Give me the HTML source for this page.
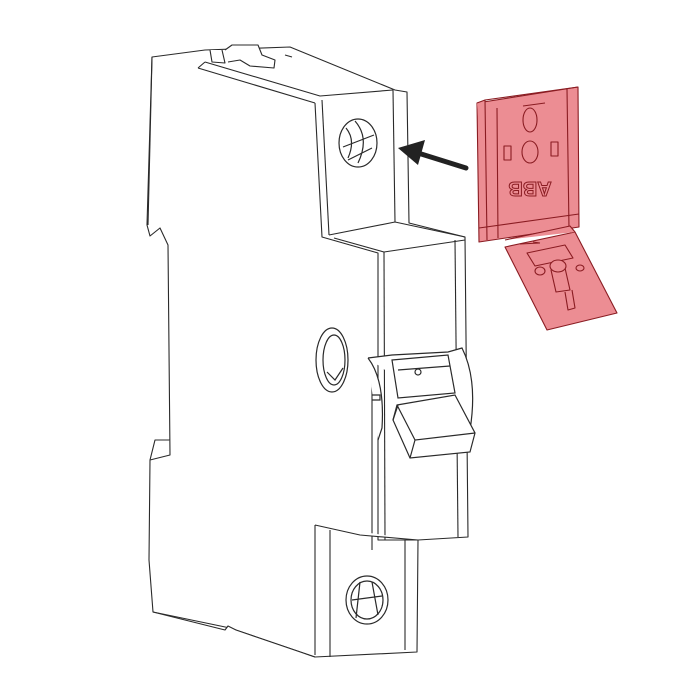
<!DOCTYPE html>
<html><head><style>html,body{margin:0;padding:0;background:#fff}svg{display:block}</style></head>
<body>
<svg width="700" height="700" viewBox="0 0 700 700" xmlns="http://www.w3.org/2000/svg">
<rect width="700" height="700" fill="#fff"/>
<g fill="#fff" stroke="#2a2a2a" stroke-width="1.1" stroke-linejoin="round">
<path d="M152,57 L205,50 L290,47 L395,90 L407,92 L409,223 L465,237 L468,537 L418,540 L417,652 L315,657 L230,628 L153,612 L149,560 L150,460 L170,455 L168,245 L160,228 L150,236 L147,225 Z"/>
<path d="M152,57 L148,225"/>
<path d="M205,62 L320,96 L393,90"/>
<path d="M198,68 L205,62 M198,68 L315,103"/>
<path d="M210,50 L212,62 L225,63 L222,50 M225,50 L232,45 L258,45 L262,55 L275,60 L274,68 L250,66 L240,60 L228,62"/>
<path d="M285,55 L292,57"/>
<path d="M315,103 L322,237 L378,253 L378,540 L418,540"/>
<path d="M322,100 L329,235"/>
<path d="M393,90 L395,222"/>
<path d="M329,235 L395,222 L465,237"/>
<path d="M334,238 L384,252 L465,240"/>
<path d="M384,252 L385,540"/>
<path d="M455,240 L458,537"/>
<path d="M372,368 L372,550"/>
<path d="M315,525 L315,655 M315,525 L360,535 L418,540"/>
<path d="M330,530 L330,657"/>
<path d="M405,540 L405,650"/>
<path d="M153,612 L225,630 L228,626 L236,630 L315,657"/>
<path d="M150,460 L155,440 L170,440"/>
</g>
<g fill="none" stroke="#2a2a2a" stroke-width="1.2">
<ellipse cx="358" cy="143" rx="19" ry="24" fill="#fff"/>
<path d="M346,128 Q356,140 348,158 M355,121 Q370,138 358,163 M343,147 L374,135 M348,160 L372,148"/>
<ellipse cx="332" cy="360" rx="16" ry="32" fill="#fff"/>
<ellipse cx="334" cy="360" rx="11" ry="25"/>
<path d="M327,372 L335,380 L343,368"/>
<ellipse cx="367" cy="600" rx="21" ry="24" fill="#fff"/>
<ellipse cx="367" cy="600" rx="16" ry="19"/>
<path d="M352,600 L382,596 M360,582 L356,618 M372,582 L378,615"/>
<path d="M368,358 Q385,380 382,428 L378,440 M368,358 L392,355 L448,352 L462,348 Q478,380 470,430" fill="#fff"/>
<path d="M392,360 L448,355 L455,393 L398,398 Z" fill="#fff"/>
<path d="M398,370 L450,366"/>
<circle cx="418" cy="372" r="3"/>
<path d="M397,405 L455,395 L475,433 L470,452 L410,458 L393,420 Z" fill="#fff"/>
<path d="M393,420 L398,405 M410,458 L415,440 L475,433 M397,405 L415,440"/>
<path d="M372,395 L380,395 L380,400 L372,400"/>
</g>
<path d="M466,168 L418,153" stroke="#222" stroke-width="5" stroke-linecap="round"/>
<path d="M398,148 L425,140 L418,165 Z" fill="#222"/>
<g fill="#ec8d93" stroke="#8a1c22" stroke-width="1.1" stroke-linejoin="round">
<path d="M477,103 L578,87 L579,227 L479,242 Z"/>
<path d="M477,103 L485,100 L487,240 M485,100 L578,87 M567,89 L569,229 M497,108 L498,238 M479,228 L579,214"/>
<path d="M505,247 L575,232 L617,313 L547,330 Z"/>
<path d="M505,240 L570,226 L575,232 M520,244 L540,243 M533,242 L540,243"/>
<path d="M527,253 L565,245 L573,258 L535,266 Z" fill="none"/>
<path d="M551,270 L565,268 L570,290 L556,292 Z" fill="none"/>
<ellipse cx="558" cy="266" rx="8" ry="6"/>
<path d="M565,292 L568,310 L575,308 L572,290" fill="none"/>
<ellipse cx="540" cy="271" rx="5" ry="4" fill="none"/>
<ellipse cx="580" cy="268" rx="4" ry="3" fill="none"/>
<ellipse cx="530" cy="120" rx="7" ry="12" fill="none"/>
<ellipse cx="530" cy="152" rx="8" ry="11" fill="none"/>
<rect x="504" y="146" width="7" height="14" fill="none"/>
<rect x="551" y="142" width="7" height="14" fill="none"/>
<path d="M523,106 L545,103" fill="none"/>
</g>
<text x="530" y="196" transform="rotate(180 530 189)" font-family="Liberation Sans, sans-serif" font-weight="bold" font-size="20" fill="#ec8d93" stroke="#8a1c22" stroke-width="1" text-anchor="middle">ABB</text>
</svg>
</body></html>
